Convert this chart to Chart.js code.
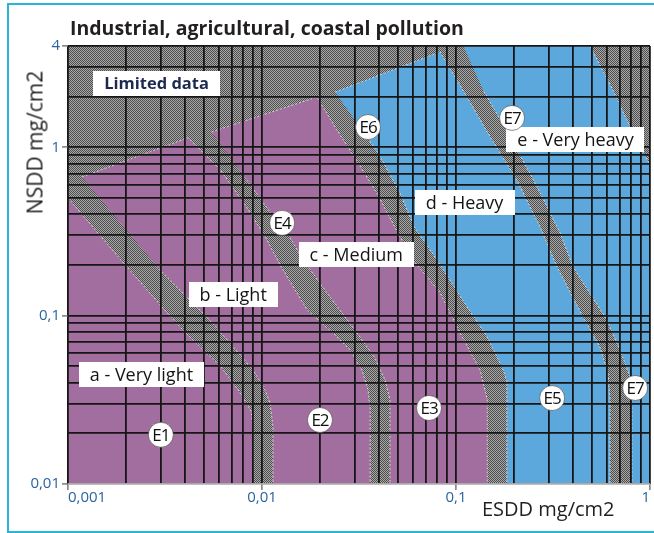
<!DOCTYPE html>
<html>
<head>
<meta charset="utf-8">
<script src="https://cdn.jsdelivr.net/npm/chart.js@4.4.1/dist/chart.umd.min.js"></script>
<style>
  html, body { margin: 0; padding: 0; background: #fff; }
  #wrap { position: relative; width: 654px; height: 533px; overflow: hidden; }
  #frame { position: absolute; left: 7px; top: 3px; width: 700px; height: 530px; box-sizing: border-box; border: 2px solid #2ab4d6; }
  #chart { position: absolute; left: 0; top: 0; }
  .txt { position: absolute; white-space: nowrap; color: #231f20; font-family: 'Open Sans', sans-serif; }
  #title { left: 70px; top: 18px; font-size: 19.5px; font-weight: bold; line-height: 19.5px; }
  #ytitle { width: 200px; left: -65px; top: 132px; font-size: 21px; line-height: 21px; text-align: center; transform: rotate(-90deg); }
  #xtitle { left: 482px; top: 499px; font-size: 20px; line-height: 20px; }
</style>
</head>
<body>
<div id="wrap">
  <div id="frame"></div>
  <canvas id="chart" width="654" height="533"></canvas>
  <div class="txt" id="title">Industrial, agricultural, coastal pollution</div>
  <div class="txt" id="ytitle">NSDD mg/cm2</div>
  <div class="txt" id="xtitle">ESDD mg/cm2</div>
</div>
<script>
// Axis grid and tick labels
const xDecades = [0.001, 0.01, 0.1];
const yDecades = [0.01, 0.1];
const gridSteps = [1, 2, 3, 4, 5, 6, 7, 8, 9];
const xGridExtra = [1];
const yGridExtra = [1, 2, 3, 4];
const xTickValues = [0.001, 0.01, 0.1, 1];
const xTickText = ['0,001', '0,01', '0,1', '1'];
const yTickValues = [0.01, 0.1, 1, 4];
const yTickText = ['0,01', '0,1', '1', '4'];

// Pollution zones, [ESDD, NSDD] corners
const veryLight = [[0.001, 0.5], [0.00201, 0.195], [0.0034, 0.098], [0.004, 0.08], [0.0062, 0.049],
  [0.0077, 0.035], [0.0088, 0.027], [0.009, 0.021], [0.009, 0.01], [0.001, 0.01]];
const light = [[0.00118, 0.667], [0.00416, 1.14], [0.0061, 0.734], [0.0082, 0.455], [0.0104, 0.294],
  [0.0124, 0.2], [0.0171, 0.108], [0.0238, 0.0767], [0.0284, 0.0625], [0.0327, 0.0476],
  [0.0352, 0.0363], [0.0361, 0.0276], [0.0361, 0.01], [0.0114, 0.01], [0.0114, 0.0218],
  [0.011, 0.0303], [0.01035, 0.0363], [0.009, 0.0476], [0.00684, 0.0689], [0.0052, 0.098],
  [0.00288, 0.195]];
const medium = [[0.0055, 1.235], [0.0192, 1.99], [0.0238, 1.32], [0.0313, 0.807], [0.0396, 0.521],
  [0.0486, 0.332], [0.06, 0.214], [0.0828, 0.137], [0.105, 0.0788], [0.133, 0.0476],
  [0.145, 0.0316], [0.145, 0.01], [0.0457, 0.01], [0.0457, 0.0316], [0.0431, 0.0415],
  [0.0382, 0.0561], [0.032, 0.0746], [0.0216, 0.137], [0.0163, 0.214], [0.0139, 0.294],
  [0.011, 0.413], [0.0082, 0.658]];
const heavy = [[0.0238, 2.13], [0.0828, 3.69], [0.114, 1.99], [0.15, 1.153], [0.206, 0.64],
  [0.271, 0.337], [0.332, 0.195], [0.452, 0.098], [0.552, 0.0651], [0.608, 0.0457],
  [0.622, 0.0316], [0.622, 0.01], [0.183, 0.01], [0.183, 0.041], [0.175, 0.0476],
  [0.145, 0.0746], [0.114, 0.113], [0.0798, 0.214], [0.0609, 0.337], [0.0514, 0.536],
  [0.0396, 0.927], [0.0301, 1.455]];
const veryHeavy = [[0.109, 4], [0.491, 4], [0.644, 2.19], [0.817, 1.22], [1, 0.786], [1, 0.01],
  [0.807, 0.01], [0.807, 0.0316], [0.789, 0.0433], [0.7, 0.0625], [0.6, 0.0942],
  [0.401, 0.195], [0.344, 0.31], [0.262, 0.582], [0.19, 1.153], [0.138, 2.19]];

// Boxed labels and circled zone marks
const boxLabels = ['Limited data', 'a - Very light', 'b - Light', 'c - Medium', 'd - Heavy', 'e - Very heavy'];
const boxX = [0.00286, 0.00239, 0.0071, 0.0306, 0.1107, 0.413];
const boxY = [2.40, 0.0445, 0.1337, 0.2296, 0.471, 1.114];
const markText = ['E1', 'E2', 'E3', 'E4', 'E5', 'E6', 'E7', 'E7'];
const markX = [0.00301, 0.0199, 0.0726, 0.0127, 0.313, 0.0352, 0.1945, 0.838];
const markY = [0.0196, 0.024, 0.0283, 0.356, 0.0324, 1.32, 1.496, 0.0372];

const PURPLE = '#a26e9f';
const BLUE = '#5ca8dc';
const GRID = '#161616';
const TICK_BLUE = '#2a65a0';

function buildGrid(decades, extra) {
  const out = [];
  decades.forEach(d => gridSteps.forEach(m => out.push(+(m * d).toPrecision(6))));
  return out.concat(extra);
}
const xGrid = buildGrid(xDecades, xGridExtra);
const yGrid = buildGrid(yDecades, yGridExtra);

function labelFor(v, values, texts) {
  const i = values.findIndex(t => Math.abs(Math.log10(t) - Math.log10(v)) < 1e-6);
  return i >= 0 ? texts[i] : '';
}

// Fine checker pattern for the "limited data" / transition bands
function hatch(ctx) {
  const pc = document.createElement('canvas');
  pc.width = 2; pc.height = 2;
  const p = pc.getContext('2d');
  p.fillStyle = '#a8a8a8';
  p.fillRect(0, 0, 2, 2);
  p.fillStyle = '#4e4e4e';
  p.fillRect(0, 0, 1, 1);
  p.fillRect(1, 1, 1, 1);
  return ctx.createPattern(pc, 'repeat');
}

const zoneLabels = {
  id: 'zoneLabels',
  beforeDraw(chart) {
    const { ctx, chartArea: a } = chart;
    ctx.save();
    ctx.fillStyle = hatch(ctx);
    ctx.fillRect(a.left, a.top, a.right - a.left, a.bottom - a.top);
    ctx.restore();
  },
  afterDraw(chart) {
    const { ctx, scales: { x, y } } = chart;
    ctx.save();
    ctx.textBaseline = 'middle';
    ctx.textAlign = 'center';
    boxLabels.forEach((t, i) => {
      const px = x.getPixelForValue(boxX[i]);
      const py = y.getPixelForValue(boxY[i]);
      ctx.font = i === 0 ? 'bold 16.5px "Open Sans"' : '18px "Open Sans"';
      const w = Math.round(ctx.measureText(t).width + 22);
      const h = 25;
      ctx.fillStyle = '#fff';
      ctx.fillRect(Math.round(px - w / 2), Math.round(py - h / 2), w, h);
      ctx.fillStyle = i === 0 ? '#1b2a4e' : '#141414';
      ctx.fillText(t, px, py + 1);
    });
    ctx.font = '17px "Open Sans"';
    if ('letterSpacing' in ctx) ctx.letterSpacing = '-1px';
    markText.forEach((t, i) => {
      const px = x.getPixelForValue(markX[i]);
      const py = y.getPixelForValue(markY[i]);
      ctx.beginPath();
      ctx.arc(px, py, 12.5, 0, Math.PI * 2);
      ctx.fillStyle = '#fff';
      ctx.fill();
      ctx.lineWidth = 1;
      ctx.strokeStyle = 'rgba(60,60,60,0.6)';
      ctx.stroke();
      ctx.fillStyle = '#111';
      ctx.fillText(t, px, py + 1);
    });
    ctx.restore();
  }
};

const zones = [
  { pts: veryLight, color: PURPLE },
  { pts: light, color: PURPLE },
  { pts: medium, color: PURPLE },
  { pts: heavy, color: BLUE },
  { pts: veryHeavy, color: BLUE },
];

new Chart(document.getElementById('chart'), {
  type: 'scatter',
  data: {
    datasets: zones.map(z => ({
      data: z.pts.map(([x, y]) => ({ x, y })),
      showLine: true,
      fill: 'shape',
      backgroundColor: z.color,
      borderColor: 'rgba(225,225,225,0.85)',
      borderWidth: 1,
      borderDash: [2, 2],
      pointRadius: 0,
      tension: 0,
    })),
  },
  options: {
    responsive: false,
    animation: false,
    events: [],
    layout: { padding: { top: 46, right: 4, bottom: 0, left: 0 } },
    plugins: { legend: { display: false }, tooltip: { enabled: false } },
    scales: {
      x: {
        type: 'logarithmic',
        min: 0.001,
        max: 1,
        afterBuildTicks: s => { s.ticks = xGrid.map(v => ({ value: v })); },
        afterFit: s => { s.height = 49; },
        border: { display: false },
        grid: {
          z: 1,
          color: GRID,
          lineWidth: 1.8,
          tickLength: 6,
          tickWidth: 1.3,
          tickColor: c => labelFor(c.tick.value, xTickValues, xTickText) ? '#666' : 'rgba(0,0,0,0)',
        },
        ticks: {
          autoSkip: false,
          maxRotation: 0,
          align: 'inner',
          padding: -1,
          color: TICK_BLUE,
          font: { family: 'Open Sans', size: 15 },
          callback: v => labelFor(v, xTickValues, xTickText),
        },
      },
      y: {
        type: 'logarithmic',
        min: 0.01,
        max: 4,
        afterBuildTicks: s => { s.ticks = yGrid.map(v => ({ value: v })); },
        afterFit: s => { s.width = 68; },
        border: { display: false },
        grid: {
          z: 1,
          color: c => (c.tick && Math.abs(c.tick.value - 0.01) < 1e-9) ? '#a8a8a8' : GRID,
          lineWidth: 1.8,
          tickLength: 6,
          tickWidth: 1.3,
          tickColor: c => labelFor(c.tick.value, yTickValues, yTickText) ? '#666' : 'rgba(0,0,0,0)',
        },
        ticks: {
          autoSkip: false,
          padding: 2,
          color: TICK_BLUE,
          font: { family: 'Open Sans', size: 15 },
          callback: v => labelFor(v, yTickValues, yTickText),
        },
      },
    },
  },
  plugins: [zoneLabels],
});
</script>
</body>
</html>
